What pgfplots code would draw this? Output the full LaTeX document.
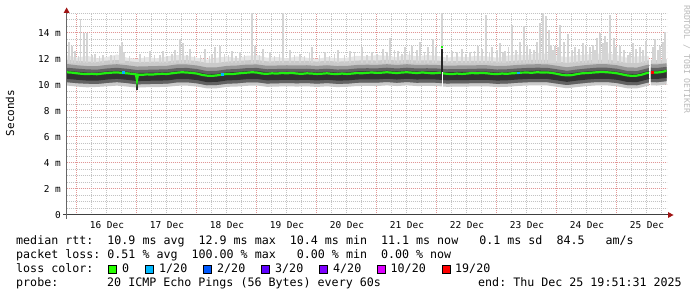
\documentclass[border=0pt]{standalone}
\usepackage{pgfplots}
\pgfplotsset{compat=1.18}
\usepackage{pgfplotstable}
\usepgfplotslibrary{fillbetween}
\usepackage{fontspec}
\setmainfont{DejaVu Sans Mono}
\setmonofont{DejaVu Sans Mono}

\definecolor{smH}{RGB}{230,230,230}
\definecolor{smA}{RGB}{202,202,202}
\definecolor{smB}{RGB}{152,152,152}
\definecolor{smC}{RGB}{98,98,98}
\definecolor{smD}{RGB}{50,50,50}
\definecolor{spk}{RGB}{212,212,212}
\definecolor{medgreen}{RGB}{32,240,16}
\definecolor{gridred}{RGB}{226,150,150}
\definecolor{gridgray}{RGB}{195,195,195}
\definecolor{arrowred}{RGB}{160,20,20}
\definecolor{wmark}{RGB}{185,185,185}
\definecolor{lc0}{RGB}{38,255,0}
\definecolor{lc1}{RGB}{0,184,255}
\definecolor{lc2}{RGB}{0,89,255}
\definecolor{lc3}{RGB}{94,0,255}
\definecolor{lc4}{RGB}{126,0,255}
\definecolor{lc10}{RGB}{221,0,255}
\definecolor{lc19}{RGB}{255,0,0}

% smoke layers: lower bounds a0..d0, upper bounds d1..a1 (ms)
\pgfplotstableread{
h a0 b0 c0 d0 d1 c1 b1 a1
-4.2 9.96 10.22 10.47 10.70 11.10 11.33 11.62 11.95
0 9.88 10.14 10.40 10.62 11.02 11.26 11.52 11.86
4 9.82 10.10 10.34 10.56 10.96 11.20 11.46 11.80
8 9.85 10.08 10.33 10.55 10.95 11.18 11.45 11.78
12 9.90 10.16 10.42 10.64 11.04 11.27 11.55 11.88
16 9.95 10.22 10.47 10.69 11.09 11.32 11.60 11.92
20 9.88 10.15 10.40 10.62 11.02 11.25 11.52 11.85
24 9.80 10.05 10.30 10.52 10.92 11.15 11.42 11.76
28 9.83 10.07 10.32 10.54 10.94 11.17 11.44 11.78
32 9.84 10.09 10.34 10.56 10.96 11.19 11.46 11.80
36 9.86 10.10 10.35 10.57 10.97 11.20 11.48 11.80
40 9.94 10.20 10.45 10.67 11.07 11.30 11.58 11.90
44 9.95 10.21 10.46 10.68 11.08 11.31 11.58 11.92
48 9.88 10.13 10.38 10.60 11.00 11.23 11.50 11.84
52 9.74 9.98 10.22 10.44 10.84 11.07 11.35 11.70
56 9.75 10.00 10.24 10.46 10.86 11.09 11.36 11.70
60 9.86 10.10 10.35 10.57 10.97 11.20 11.47 11.80
64 9.88 10.13 10.38 10.60 11.00 11.23 11.50 11.84
68 9.94 10.20 10.45 10.67 11.07 11.30 11.57 11.90
72 9.96 10.21 10.46 10.68 11.08 11.31 11.58 11.92
76 9.86 10.11 10.36 10.58 10.98 11.21 11.48 11.82
80 9.88 10.13 10.38 10.60 11.00 11.23 11.50 11.83
84 9.90 10.15 10.40 10.62 11.02 11.25 11.52 11.86
88 9.88 10.13 10.38 10.60 11.00 11.23 11.50 11.84
92 9.90 10.15 10.40 10.62 11.02 11.25 11.52 11.85
96 9.85 10.10 10.35 10.57 10.97 11.20 11.47 11.80
100 9.90 10.15 10.40 10.62 11.02 11.25 11.52 11.86
104 9.84 10.09 10.34 10.56 10.96 11.19 11.46 11.80
108 9.86 10.10 10.35 10.57 10.97 11.20 11.47 11.82
112 9.92 10.17 10.42 10.64 11.04 11.27 11.54 11.88
116 9.93 10.19 10.44 10.66 11.06 11.29 11.56 11.90
120 9.92 10.18 10.43 10.65 11.05 11.28 11.55 11.88
124 9.97 10.23 10.48 10.70 11.10 11.33 11.60 11.94
128 9.92 10.17 10.42 10.64 11.04 11.27 11.54 11.88
132 9.97 10.23 10.48 10.70 11.10 11.33 11.60 11.94
136 9.92 10.17 10.42 10.64 11.04 11.27 11.54 11.88
140 9.93 10.19 10.44 10.66 11.06 11.29 11.56 11.90
144 9.92 10.17 10.42 10.64 11.04 11.27 11.54 11.88
148 9.86 10.11 10.36 10.58 10.98 11.21 11.48 11.82
152 9.88 10.13 10.38 10.60 11.00 11.23 11.50 11.84
156 9.88 10.13 10.38 10.60 11.00 11.23 11.50 11.84
160 9.90 10.15 10.40 10.62 11.02 11.25 11.52 11.86
164 9.90 10.15 10.40 10.62 11.02 11.25 11.52 11.86
168 9.84 10.09 10.34 10.56 10.96 11.19 11.46 11.80
172 9.86 10.11 10.36 10.58 10.98 11.21 11.48 11.82
176 9.92 10.17 10.42 10.64 11.04 11.27 11.54 11.88
180 9.96 10.21 10.46 10.68 11.08 11.31 11.58 11.92
184 9.97 10.23 10.48 10.70 11.10 11.33 11.60 11.94
188 9.97 10.22 10.47 10.69 11.09 11.32 11.59 11.93
192 9.86 10.11 10.36 10.58 10.98 11.21 11.48 11.82
196 9.75 10.00 10.24 10.46 10.86 11.09 11.36 11.70
200 9.84 10.09 10.34 10.56 10.96 11.19 11.46 11.80
204 9.92 10.17 10.42 10.64 11.04 11.27 11.54 11.88
208 9.97 10.23 10.48 10.70 11.10 11.33 11.60 11.94
212 9.97 10.23 10.48 10.70 11.10 11.33 11.60 11.94
216 9.90 10.15 10.40 10.62 11.02 11.25 11.52 11.86
220 9.75 10.00 10.24 10.46 10.86 11.09 11.36 11.70
224 9.74 9.98 10.22 10.44 10.84 11.07 11.34 11.68
228 9.92 10.17 10.42 10.64 11.04 11.27 11.54 11.88
228.8 9.94 10.20 10.45 10.67 11.07 11.30 11.57 11.90
}\smokeone

\pgfplotstableread{
h a0 b0 c0 d0 d1 c1 b1 a1
229.6 9.97 10.23 10.48 10.70 11.10 11.33 11.60 11.94
232 9.96 10.21 10.46 10.68 11.08 11.31 11.58 11.92
236 10.04 10.30 10.55 10.77 11.17 11.40 11.67 12.00
}\smoketwo

% faint haze above the smoke (ms)
\pgfplotstableread{
h t
-4.2 12.30
0 12.10
4 12.25
8 12.05
12 12.15
16 12.35
20 12.10
24 12.00
28 12.15
32 12.05
36 12.20
40 12.30
44 12.25
48 12.10
52 11.95
56 12.10
60 12.20
64 12.05
68 12.25
72 12.30
76 12.10
80 12.15
84 12.05
88 12.20
92 12.10
96 12.00
100 12.15
104 12.05
108 12.10
112 12.25
116 12.20
120 12.30
124 12.25
128 12.15
132 12.35
136 12.20
140 12.30
144 12.25
148 12.10
152 12.20
156 12.15
160 12.25
164 12.20
168 12.10
172 12.25
176 12.35
180 12.30
184 12.45
188 12.40
192 12.25
196 12.15
200 12.30
204 12.35
208 12.40
212 12.45
216 12.30
220 12.10
224 12.20
228 12.25
228.8 12.20
}\haze

% median rtt (ms)
\pgfplotstableread{
h m
-4.2 10.98
-2 10.95
0 10.90
2 10.86
4 10.84
6 10.86
8 10.83
10 10.88
12 10.92
14 10.95
16 10.97
18 10.93
20 10.90
22 10.86
23.6 10.82
24 10.35
24.4 10.80
26 10.78
28 10.82
30 10.80
32 10.84
34 10.86
36 10.85
38 10.90
40 10.95
42 10.98
44 10.96
46 10.93
48 10.88
50 10.78
52 10.72
54 10.70
56 10.74
58 10.80
60 10.85
62 10.84
64 10.88
66 10.92
68 10.95
70 10.98
72 10.96
74 10.88
76 10.86
78 10.90
80 10.88
82 10.92
84 10.90
86 10.93
88 10.88
90 10.86
92 10.90
94 10.88
96 10.85
98 10.87
100 10.90
102 10.86
104 10.84
106 10.88
108 10.85
110 10.88
112 10.92
114 10.90
116 10.94
118 10.96
120 10.93
122 10.95
124 10.98
126 10.95
128 10.92
130 10.96
132 10.98
134 10.95
136 10.92
138 10.96
140 10.94
142 10.90
144 10.92
145.6 10.95
146 nan
146.4 10.90
148 10.86
150 10.84
152 10.88
154 10.85
156 10.88
158 10.92
160 10.90
162 10.93
164 10.90
166 10.86
168 10.84
170 10.88
172 10.86
174 10.90
176 10.92
178 10.95
180 10.96
182 10.94
184 10.98
186 10.96
188 10.97
190 10.93
192 10.86
194 10.78
196 10.74
198 10.76
200 10.84
202 10.90
204 10.92
206 10.95
208 10.98
210 11.00
212 10.98
214 10.95
216 10.90
218 10.82
220 10.74
222 10.70
224 10.72
226 10.80
228 10.92
228.8 10.95
229.2 nan
229.6 10.98
232 10.96
234 11.00
236 11.10
}\medtab

% outlier pings: base (ms) and length (ms)
\pgfplotstableread{
h b l
-3.2 11.7 1.6
-2.0 11.7 1.3
-0.8 11.7 0.9
0.5 11.7 0.5
1.5 11.7 3.4
2.8 11.7 2.3
4.0 11.7 2.3
6.0 11.7 0.6
7.2 11.7 0.7
9.0 11.7 0.5
10.4 11.7 0.6
13.6 11.7 0.6
15.0 11.7 0.5
17.2 11.7 1.3
18.0 11.7 1.6
18.8 11.7 0.8
21.0 11.7 0.5
25.2 11.7 0.7
27.0 11.7 0.5
29.2 11.7 0.9
31.0 11.7 0.6
33.2 11.7 0.6
34.4 11.7 0.9
36.0 11.7 0.5
38.0 11.7 0.7
39.2 11.7 1.0
41.2 11.7 1.8
42.4 11.7 1.5
44.0 11.7 0.6
45.2 11.7 1.1
47.0 11.7 0.5
49.5 11.7 0.6
51.2 11.7 1.1
53.0 11.7 0.5
54.0 11.7 0.7
55.2 11.7 1.2
57.2 11.7 1.3
59.0 11.7 0.7
60.5 11.7 0.6
62.0 11.7 0.9
63.6 11.7 0.5
65.2 11.7 0.8
67.0 11.7 0.6
70.0 11.7 3.8
71.2 11.7 1.3
73.0 11.7 0.6
74.4 11.7 1.1
77.2 11.7 0.8
79.0 11.7 0.5
81.0 11.7 0.7
82.4 11.7 3.8
85.2 11.7 1.0
87.0 11.7 0.6
89.2 11.7 0.7
91.0 11.7 0.5
93.0 11.7 0.8
94.0 11.7 1.2
97.0 11.7 0.6
99.2 11.7 0.8
101.0 11.7 0.5
103.0 11.7 0.7
104.4 11.7 1.0
107.0 11.7 0.6
109.2 11.7 0.9
111.0 11.7 0.8
114.0 11.7 1.2
116.0 11.7 0.6
118.0 11.7 0.8
120.0 11.7 0.7
122.4 11.7 1.1
124.0 11.7 0.8
125.2 11.7 1.9
127.0 11.7 1.0
128.4 11.7 0.9
130.0 11.7 0.7
131.2 11.7 1.2
133.0 11.7 0.9
134.0 11.7 1.3
136.0 11.7 1.0
137.2 11.7 1.6
139.0 11.7 0.8
140.4 11.7 1.2
142.4 11.7 1.8
143.6 11.7 1.2
146.0 11.7 3.8
148.0 11.7 0.6
150.0 11.7 0.9
152.0 11.7 0.8
154.0 11.7 1.1
155.6 11.7 0.7
157.2 11.7 0.8
159.0 11.7 0.9
160.4 11.7 1.3
162.0 11.7 1.1
163.6 11.7 3.7
165.0 11.7 0.8
166.0 11.7 1.2
168.0 11.7 1.0
169.2 11.7 1.5
170.4 11.7 0.8
171.2 11.7 0.9
172.6 11.7 1.2
174.0 11.7 2.9
175.6 11.7 1.0
177.2 11.7 1.6
178.8 11.7 2.8
180.0 11.7 1.3
181.2 11.7 1.1
182.8 11.7 1.0
184.0 11.7 1.6
185.2 11.7 3.1
186.4 11.7 3.8
187.6 11.7 3.6
188.8 11.7 2.5
189.6 11.7 1.4
190.4 11.7 1.0
191.2 11.7 1.3
192.4 11.7 1.2
193.2 11.7 2.9
194.8 11.7 1.6
196.4 11.7 2.2
198.0 11.7 1.0
199.2 11.7 1.2
200.8 11.7 1.1
202.4 11.7 1.5
203.6 11.7 1.3
205.2 11.7 1.2
206.4 11.7 1.4
207.2 11.7 1.0
208.0 11.7 1.9
209.2 11.7 2.3
210.4 11.7 1.5
211.2 11.7 2.1
212.0 11.7 1.6
213.2 11.7 3.7
214.8 11.7 1.9
215.6 11.7 1.2
217.2 11.7 1.3
218.8 11.7 1.0
220.4 11.7 0.6
221.2 11.7 0.8
222.4 11.7 1.5
223.6 11.7 1.1
225.2 11.7 1.2
226.4 11.7 1.0
227.6 11.7 1.7
230.4 11.7 1.2
231.2 11.7 1.8
232.4 11.7 1.0
233.2 11.7 1.3
234.4 11.7 1.6
235.2 11.7 2.4
}\spikes

\newcommand{\smokelayers}[2]{%
  \addplot[draw=none, forget plot, name path=a0#2] table[x=h,y=a0]{#1};
  \addplot[draw=none, forget plot, name path=a1#2] table[x=h,y=a1]{#1};
  \addplot[draw=none, forget plot, name path=b0#2] table[x=h,y=b0]{#1};
  \addplot[draw=none, forget plot, name path=b1#2] table[x=h,y=b1]{#1};
  \addplot[draw=none, forget plot, name path=c0#2] table[x=h,y=c0]{#1};
  \addplot[draw=none, forget plot, name path=c1#2] table[x=h,y=c1]{#1};
  \addplot[draw=none, forget plot, name path=d1#2] table[x=h,y=d1]{#1};
  \addplot[fill=smA, draw=none, forget plot] fill between[of=a0#2 and a1#2];
  \addplot[fill=smB, draw=none, forget plot] fill between[of=b0#2 and b1#2];
  \addplot[fill=smC, draw=none, forget plot] fill between[of=b0#2 and c1#2];
  \addplot[fill=smD, draw=none, forget plot] fill between[of=c0#2 and d1#2];
}

\begin{document}
\begin{tikzpicture}
\begin{axis}[
  at={(66.6bp,82bp)}, anchor=south west,
  scale only axis, width=600bp, height=201.5bp,
  xmin=-4.14, xmax=235.86, ymin=0, ymax=15.5,
  axis line style={draw=none},
  major tick length=0pt, minor tick length=0pt,
  tick style={draw=none},
  xtick={0,24,...,216}, xticklabels={},
  minor xtick={6,12,...,234},
  extra x ticks={12,36,60,84,108,132,156,180,204,228},
  extra x tick labels={16 Dec,17 Dec,18 Dec,19 Dec,20 Dec,21 Dec,22 Dec,23 Dec,24 Dec,25 Dec},
  extra x tick style={grid=none},
  ytick={0,2,...,14},
  yticklabels={0,2 m,4 m,6 m,8 m,10 m,12 m,14 m},
  minor ytick={0.5,1,...,15.5},
  grid=both,
  major grid style={color=gridred, dash pattern=on 1bp off 1bp, line width=1bp},
  minor grid style={color=gridgray, dash pattern=on 1bp off 1bp, line width=1bp},
  tick label style={font=\fontsize{9.5}{10}\selectfont},
  xticklabel style={anchor=base, inner sep=0pt, yshift=-13.3bp},
  yticklabel style={anchor=east, inner sep=0pt, xshift=-5.5bp},
]
% outlier spikes
\addplot[forget plot, color=spk, line width=1.1bp, mark=none, -,
  quiver={u=0, v=\thisrow{l}}] table[x=h, y=b]{\spikes};
% haze above the smoke
\addplot[draw=none, forget plot, name path=hz] table[x=h,y=t]{\haze};
\addplot[draw=none, forget plot, name path=hzlow] table[x=h,y=b1]{\smokeone};
\addplot[fill=smH, draw=none, forget plot] fill between[of=hz and hzlow];
% smoke
\smokelayers{\smokeone}{x}
\smokelayers{\smoketwo}{y}
% dip at 17 Dec 00:00
\addplot[forget plot, color=smD, line width=1.2bp, mark=none, -,
  quiver={u=0, v=0.9}] coordinates {(24,9.6)};
% 22 Dec spike: gap below, dark smoke above
\addplot[forget plot, color=white, line width=1.3bp, mark=none, -,
  quiver={u=0, v=1.4}] coordinates {(146.3,9.6)};
\addplot[forget plot, color=black!85, line width=1.8bp, mark=none, -,
  quiver={u=0, v=1.8}] coordinates {(146,11.0)};
% median
\addplot[forget plot, color=medgreen, line width=2.2bp, unbounded coords=jump] table[x=h,y=m]{\medtab};
\addplot[forget plot, color=medgreen, line width=2.2bp] coordinates {(145.7,12.9) (146.3,12.9)};
% loss-coloured samples
\addplot[forget plot, only marks, mark=square*, mark size=0.9bp, color=lc1] coordinates {(18.4,11.0) (58,10.8) (176.4,10.95)};
\addplot[forget plot, only marks, mark=square*, mark size=0.9bp, color=lc19] coordinates {(230,11.0)};
\end{axis}

% axis lines with arrows
\draw[line width=1bp, color=black!75] (63bp,82bp) -- (669bp,82bp);
\fill[arrowred] (668bp,79bp) -- (673.5bp,82bp) -- (668bp,85bp) -- cycle;
\draw[line width=1bp, color=black!60] (66.6bp,78bp) -- (66.6bp,285bp);
\fill[arrowred] (63.6bp,284bp) -- (66.6bp,289.5bp) -- (69.6bp,284bp) -- cycle;

% y label
\node[rotate=90, font=\fontsize{11}{12}\selectfont] at (10bp,184bp) {Seconds};
% watermark
\node[rotate=-90, anchor=west, inner sep=0pt, text=wmark, font=\fontsize{8.2}{9}\selectfont] at (686.7bp,292bp) {RRDTOOL~/~TOBI~OETIKER};

% legend
\begin{scope}[every node/.style={anchor=base west, inner sep=0pt, font=\fontsize{11.7}{12}\selectfont}]
\node at (16bp,52.5bp) {median~rtt:~~10.9~ms~avg~~12.9~ms~max~~10.4~ms~min~~11.1~ms~now~~~0.1~ms~sd~~84.5~~~am/s};
\node at (16bp,38.5bp) {packet~loss:~0.51~\%~avg~~100.00~\%~max~~~0.00~\%~min~~0.00~\%~now};
\node at (16bp,24.5bp) {loss~color:};
\node at (122bp,24.5bp) {0};
\node at (159bp,24.5bp) {1/20};
\node at (217bp,24.5bp) {2/20};
\node at (275bp,24.5bp) {3/20};
\node at (333bp,24.5bp) {4/20};
\node at (390.5bp,24.5bp) {10/20};
\node at (455bp,24.5bp) {19/20};
\node at (16bp,10.5bp) {probe:};
\node at (107bp,10.5bp) {20~ICMP~Echo~Pings~(56~Bytes)~every~60s};
\node at (478bp,10.5bp) {end:~Thu~Dec~25~19:51:31~2025};
\end{scope}
\foreach \bx/\bc in {108/lc0,145/lc1,203/lc2,261/lc3,319/lc4,377/lc10,442/lc19}{
  \filldraw[fill=\bc, draw=black, line width=0.8bp] (\bx bp,23.5bp) rectangle ++(8bp,8bp);
}
\pgfresetboundingbox
\path (0,0) rectangle (697bp,297bp);
\end{tikzpicture}
\end{document}
